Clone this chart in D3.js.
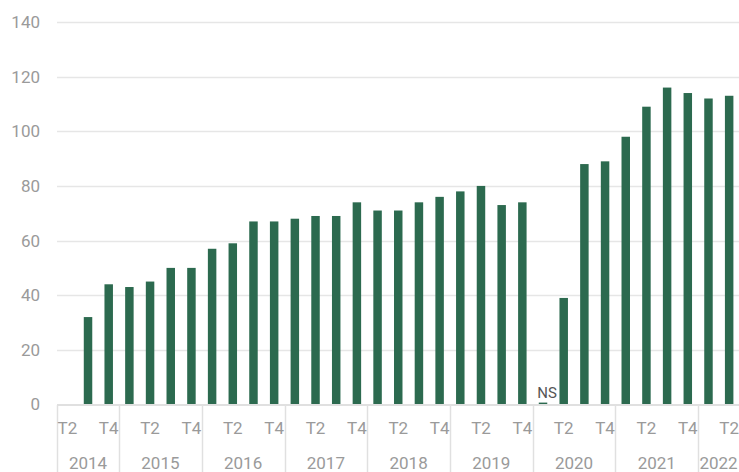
<!DOCTYPE html>
<html><head><meta charset="utf-8">
<script src="https://cdn.jsdelivr.net/npm/d3@7"></script>
<style>html,body{margin:0;padding:0;background:#fff;}svg{display:block;font-family:Roboto,sans-serif;}</style>
</head><body><svg id="c" width="739" height="472"></svg>
<script>
const years = ["2014","2015","2016","2017","2018","2019","2020","2021","2022"];
const quarterLabels = [
 "T2","T3","T4",
 "T1","T2","T3","T4",
 "T1","T2","T3","T4",
 "T1","T2","T3","T4",
 "T1","T2","T3","T4",
 "T1","T2","T3","T4",
 "T1","T2","T3","T4",
 "T1","T2","T3","T4",
 "T1","T2"];
const quarterYears = [
 "2014","2014","2014",
 "2015","2015","2015","2015",
 "2016","2016","2016","2016",
 "2017","2017","2017","2017",
 "2018","2018","2018","2018",
 "2019","2019","2019","2019",
 "2020","2020","2020","2020",
 "2021","2021","2021","2021",
 "2022","2022"];
const values = [
 null,32,44,
 43,45,50,50,
 57,59,67,67,
 68,69,69,74,
 71,71,74,76,
 78,80,73,74,
 0.7,39,88,89,
 98,109,116,114,
 112,113];
const notes = ["","","", "","","","", "","","","", "","","","", "","","","", "","","","", "NS","","","", "","","","", "",""];
const yTicks = [0,20,40,60,80,100,120,140];
const shownQuarterTicks = ["T2","T4"];

const svg = d3.select("#c");
const keys = quarterLabels.map((q,i)=>quarterYears[i]+" "+q);
const x = d3.scaleBand().domain(keys).range([57,739.5]).paddingInner(0.59).paddingOuter(0.295);
const y = d3.scaleLinear().domain([0,140]).range([404.5,22]);

// gridlines
svg.append("g").selectAll("line").data(yTicks.filter(d=>d>0)).join("line")
 .attr("x1",57).attr("x2",739).attr("y1",d=>Math.round(y(d))+0.5).attr("y2",d=>Math.round(y(d))+0.5)
 .attr("stroke","#e6e6e6").attr("stroke-width",1.5);

// y labels
svg.append("g").selectAll("text").data(yTicks).join("text")
 .attr("x",40).attr("y",d=>y(d)).attr("dy","0.35em").attr("text-anchor","end")
 .attr("font-size","17px").attr("fill","#9a9a9a").text(d=>d);

// bars
svg.append("g").selectAll("rect").data(values.map((v,i)=>({k:keys[i],v})).filter(d=>d.v!=null)).join("rect")
 .attr("x",d=>x(d.k)).attr("width",x.bandwidth())
 .attr("y",d=>y(d.v)).attr("height",d=>y(0)-y(d.v))
 .attr("fill","#2c6a4f");

// notes
svg.append("g").selectAll("text").data(notes.map((n,i)=>({k:keys[i],n,v:values[i]})).filter(d=>d.n)).join("text")
 .attr("x",d=>x(d.k)+x.bandwidth()/2+4).attr("y",398).attr("text-anchor","middle")
 .attr("font-size","15px").attr("fill","#555").text(d=>d.n);

// x axis base line
svg.append("line").attr("x1",57).attr("x2",739).attr("y1",405).attr("y2",405).attr("stroke","#e0e0e0").attr("stroke-width",2);

// year separators
const step = x.step();
const x0 = 57;
const groups = years.map(yr=>{
  const idx = quarterYears.map((q,i)=>q===yr?i:-1).filter(i=>i>=0);
  return {yr, start:x0+idx[0]*step, end:x0+(idx[idx.length-1]+1)*step};
});
svg.append("g").selectAll("line").data(groups).join("line")
 .attr("x1",d=>Math.round(d.start)+0.5).attr("x2",d=>Math.round(d.start)+0.5).attr("y1",405).attr("y2",472)
 .attr("stroke","#e0e0e0").attr("stroke-width",1.5);

// quarter tick labels
svg.append("g").selectAll("text").data(keys.map((k,i)=>({k,q:quarterLabels[i]})).filter(d=>shownQuarterTicks.includes(d.q))).join("text")
 .attr("x",d=>x(d.k)+x.bandwidth()/2).attr("y",433.5).attr("text-anchor","middle")
 .attr("font-size","17px").attr("fill","#9a9a9a").text(d=>d.q);

// year labels
svg.append("g").selectAll("text").data(groups).join("text")
 .attr("x",d=>(d.start+Math.min(d.end,739))/2).attr("y",469).attr("text-anchor","middle")
 .attr("font-size","17px").attr("fill","#9a9a9a").text(d=>d.yr);
</script></body></html>
